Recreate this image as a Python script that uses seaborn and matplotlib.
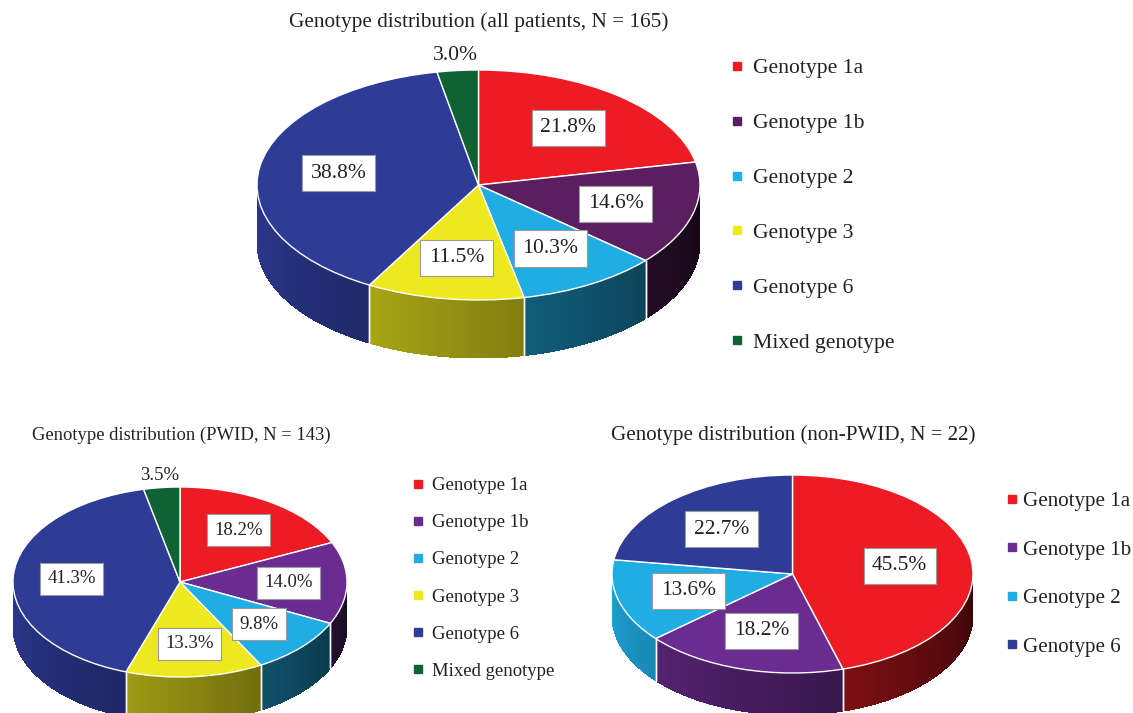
import numpy as np
import matplotlib
matplotlib.use("Agg")
import matplotlib.pyplot as plt
import seaborn as sns
from matplotlib.patches import Polygon
from matplotlib.lines import Line2D
from matplotlib.colors import to_rgb

# ---------------- data ----------------
all_labels = ["Genotype 1a", "Genotype 1b", "Genotype 2", "Genotype 3", "Genotype 6", "Mixed genotype"]
all_values = [21.8, 14.6, 10.3, 11.5, 38.8, 3.0]
all_colors = ["#ED1C24", "#5B1F5F", "#1FADE3", "#EEE91E", "#2E3B97", "#0F6234"]
all_title = "Genotype distribution (all patients, N = 165)"

pwid_labels = ["Genotype 1a", "Genotype 1b", "Genotype 2", "Genotype 3", "Genotype 6", "Mixed genotype"]
pwid_values = [18.2, 14.0, 9.8, 13.3, 41.3, 3.5]
pwid_colors = ["#ED1C24", "#6B2C91", "#1FADE3", "#EEE91E", "#2E3B97", "#0F6234"]
pwid_title = "Genotype distribution (PWID, N = 143)"

non_labels = ["Genotype 1a", "Genotype 1b", "Genotype 2", "Genotype 6"]
non_values = [45.5, 18.2, 13.6, 22.7]
non_colors = ["#ED1C24", "#6B2C91", "#1FADE3", "#2E3B97"]
non_title = "Genotype distribution (non-PWID, N = 22)"

# ---------------- style ----------------
sns.set_theme(style="white")
plt.rcParams["font.family"] = ["Liberation Serif", "DejaVu Serif"]

W, H = 1133, 713
fig = plt.figure(figsize=(W / 100, H / 100), dpi=100)
fig.patch.set_facecolor("white")


def fx(x):
    return x / W


def fy(y):
    return 1 - y / H


def shade(color, f):
    r, g, b = to_rgb(color)
    return (r * f, g * f, b * f)


def draw_pie(cx, cy, rx, ry, depth, values, colors, labels, title, title_xy,
             title_fs, label_fs, label_r, leg_xy, leg_fs, leg_spacing, leg_pad):
    d = depth / ry
    ax = fig.add_axes([fx(cx - rx), fy(cy + ry + depth), 2 * rx / W, (2 * ry + depth) / H])
    ax.set_facecolor("none")
    total = float(sum(values))
    cum = np.concatenate([[0], np.cumsum(values)]) / total
    # side (front half) of the 3D disc
    for i, c in enumerate(colors):
        a_start = 90 - 360 * cum[i]
        a_end = 90 - 360 * cum[i + 1]
        lo, hi = a_end, a_start
        for k in (-1, 0, 1):
            s_lo, s_hi = max(lo, -180 + 360 * k), min(hi, 0 + 360 * k)
            if s_hi <= s_lo:
                continue
            edges = np.arange(s_lo, s_hi, 1.5)
            edges = np.append(edges, s_hi)
            for a0, a1 in zip(edges[:-1], edges[1:]):
                a1e = min(a1 + 0.6, s_hi)
                tt = np.radians(np.linspace(a0, a1e, 4))
                top = np.column_stack([np.cos(tt), np.sin(tt)])
                bot = np.column_stack([np.cos(tt[::-1]), np.sin(tt[::-1]) - d])
                am = ((a0 + a1) / 2) % 360
                t = (am - 180) / 180
                f = 0.95 - 0.72 * t
                ax.add_patch(Polygon(np.vstack([top, bot]), closed=True,
                                     facecolor=shade(c, f), edgecolor="none",
                                     linewidth=0, antialiased=False, zorder=1))
            # white boundary lines on the side
            for a in (s_lo, s_hi):
                if abs(a % 180) > 0.5:
                    ar = np.radians(a)
                    ax.plot([np.cos(ar), np.cos(ar)], [np.sin(ar), np.sin(ar) - d],
                            color="white", lw=1, zorder=2)
    wedges, _ = ax.pie(values, colors=colors, startangle=90, counterclock=False,
                       wedgeprops=dict(edgecolor="white", linewidth=1))
    for w in wedges:
        w.set_zorder(3)
    ax.set_aspect("auto")
    ax.set_xlim(-1, 1)
    ax.set_ylim(-1 - d, 1)
    ax.axis("off")
    # percentage labels
    for i, v in enumerate(values):
        mid = np.radians(90 - 360 * (cum[i] + cum[i + 1]) / 2)
        txt = f"{v:.1f}%"
        if v < 5:
            ax.text(1.13 * np.cos(mid), 1.13 * np.sin(mid), txt, ha="center", va="center",
                    fontsize=label_fs, color="#222222", zorder=5)
        else:
            ax.text(label_r * np.cos(mid), label_r * np.sin(mid), txt, ha="center", va="center",
                    fontsize=label_fs, color="#222222", zorder=5,
                    bbox=dict(boxstyle="square,pad=0.4", facecolor="white",
                              edgecolor="#9a9a9a", linewidth=0.8))
    fig.text(fx(title_xy[0]), fy(title_xy[1]), title, ha="center", va="center",
             fontsize=title_fs, color="#222222")
    handles = [Line2D([], [], marker="s", linestyle="", markersize=6, color=c) for c in colors]
    fig.legend(handles, labels, loc="center left", bbox_to_anchor=(fx(leg_xy[0]), fy(leg_xy[1])),
               bbox_transform=fig.transFigure, frameon=False, fontsize=leg_fs,
               handlelength=0.6, handletextpad=leg_pad, labelspacing=leg_spacing,
               borderpad=0, borderaxespad=0, labelcolor="#222222")


draw_pie(478.5, 185, 221.5, 115, 58, all_values, all_colors, all_labels, all_title,
         (479, 22), 15.3, 15.6, 0.64, (730, 205.5), 15.6, 1.6, 0.45)
draw_pie(180, 582, 167, 95, 45, pwid_values, pwid_colors, pwid_labels, pwid_title,
         (181, 435), 13.4, 13.5, 0.65, (412, 578.5), 13.5, 1.07, 0.45)
draw_pie(792.5, 574, 180.5, 99, 42, non_values, non_colors, non_labels, non_title,
         (793, 435), 15.1, 15.4, 0.6, (1006, 574), 15.1, 1.38, 0.2)

fig.savefig("out.png", dpi=100, facecolor="white")
